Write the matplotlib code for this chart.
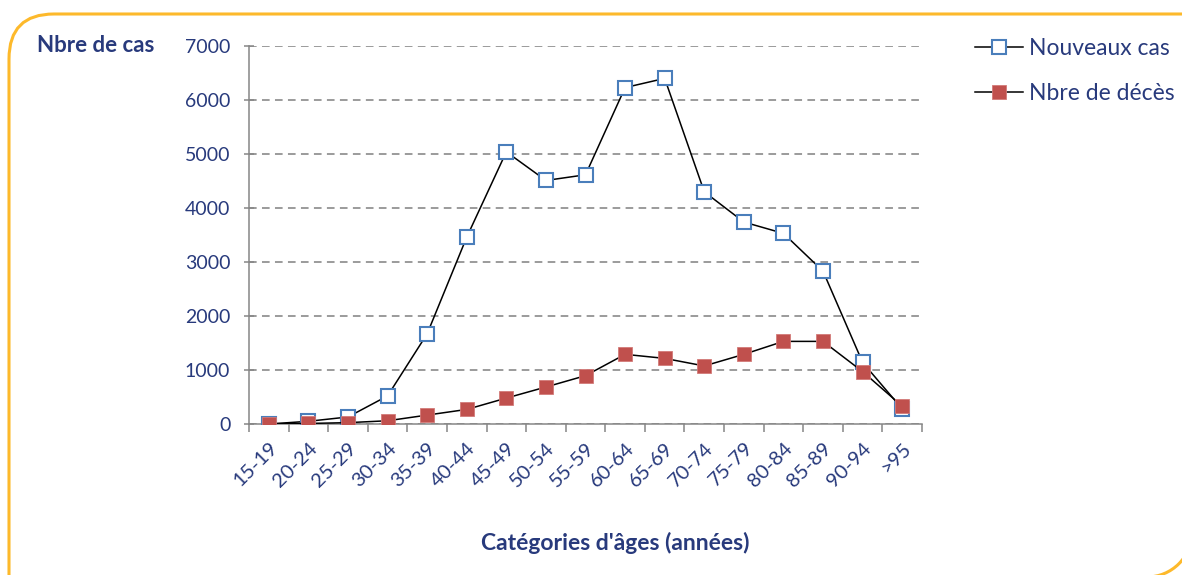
import matplotlib.pyplot as plt
from matplotlib.patches import FancyBboxPatch, Arc

# age groups and counts
ages = ["15-19", "20-24", "25-29", "30-34", "35-39", "40-44", "45-49", "50-54",
        "55-59", "60-64", "65-69", "70-74", "75-79", "80-84", "85-89", "90-94", ">95"]
new_cases = [0, 50, 130, 520, 1670, 3460, 5040, 4510, 4615, 6230, 6400,
             4300, 3740, 3530, 2830, 1140, 280]
deaths = [5, 10, 25, 60, 165, 270, 480, 685, 895, 1290, 1215,
          1075, 1290, 1530, 1530, 970, 330]
yticks = [0, 1000, 2000, 3000, 4000, 5000, 6000, 7000]

navy = "#283A7C"
grey = "#868686"
orange = "#FDB92B"
plt.rcParams["font.family"] = ["Lato", "DejaVu Sans"]

W, H = 1182, 575
fig = plt.figure(figsize=(W / 100, H / 100), dpi=100)
ax = fig.add_axes([249 / W, 1 - 424 / H, 673 / W, 378 / H])

x = list(range(len(ages)))
ax.plot(x, new_cases, color="black", lw=1.1, marker="s", ms=10,
        mfc="white", mec="#4A7EBB", mew=1.5, label="Nouveaux cas", zorder=3)
ax.plot(x, deaths, color="black", lw=1.1, marker="s", ms=10.5,
        mfc="#C0504D", mec="#D27A78", mew=0.6, label="Nbre de décès", zorder=4)

ax.set_xlim(-0.5, len(ages) - 0.5)
ax.set_ylim(0, 7000)
ax.set_yticks(yticks)
ax.set_yticklabels([str(v) for v in yticks])
ax.set_xticks(x)
ax.set_xticklabels(ages, rotation=45, ha="right", va="top", rotation_mode="anchor")
ax.set_xticks([i - 0.5 for i in range(len(ages) + 1)], minor=True)

ax.tick_params(axis="x", which="major", length=0, pad=11, labelsize=14.5, labelcolor=navy)
ax.tick_params(axis="x", which="minor", direction="out", length=5.5, width=1.1, color=grey)
ax.tick_params(axis="y", direction="inout", length=7, width=1.1, color=grey,
               pad=10, labelsize=14, labelcolor=navy)

ax.grid(axis="y", color="#808080", linestyle=(0, (5, 3.5)), lw=1.1)
ax.set_axisbelow(True)
for s in ["top", "right"]:
    ax.spines[s].set_visible(False)
for s in ["left", "bottom"]:
    ax.spines[s].set_color(grey)
    ax.spines[s].set_linewidth(1.1)

fig.text(37 / W, 1 - 45 / H, "Nbre de cas", fontsize=16, fontweight="bold",
         color=navy, va="center", ha="left")
fig.text(615 / W, 1 - 543 / H, "Catégories d'âges (années)", fontsize=16.5,
         fontweight="bold", color=navy, va="center", ha="center")

fig.legend(loc="upper left", bbox_to_anchor=(975 / W, 1 - 38 / H), frameon=False,
           fontsize=16.5, labelcolor=navy, handlelength=2.1, handletextpad=0.25,
           borderpad=0, borderaxespad=0, labelspacing=1.05)

# orange frame: rounded top-left corner, runs off the right and bottom edges
frame = FancyBboxPatch((9 / W, 1 - 640 / H), (1260 - 9) / W, (640 - 14) / H,
                       boxstyle="round,pad=0,rounding_size=0.038",
                       transform=fig.transFigure, fill=False,
                       edgecolor=orange, lw=2.2, mutation_aspect=W / H)
fig.patches.append(frame)
corner = Arc((1147 / W, 1 - 532 / H), 90 / W, 90 / H, theta1=-90, theta2=0,
             transform=fig.transFigure, color=orange, lw=2.2)
fig.patches.append(corner)

fig.savefig("out.png", dpi=100)
